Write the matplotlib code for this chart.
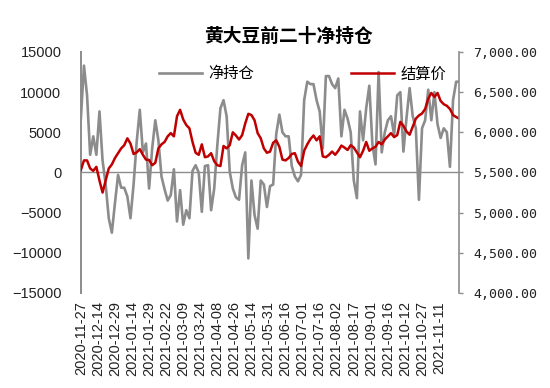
#!/usr/bin/env python
# -*- coding: utf-8 -*-
import matplotlib
matplotlib.use('Agg')
import matplotlib.pyplot as plt
import numpy as np

plt.rcParams['font.family'] = ['Liberation Sans', 'Noto Sans CJK SC']
plt.rcParams['axes.unicode_minus'] = True

# 每隔两个交易日取一个点
step = 2
net_position = [
    6700, 13300, 9600, 2200, 4500, 2200, 7600, 1500, -1500, -5700,
    -7500, -3800, -300, -1900, -1900, -3000, -5700, -1500, 3800, 7800,
    2500, 3600, -2000, 3000, 6500, 4000, -500, -2100, -3500, -2800,
    400, -6100, -2200, -6500, -4700, -5700, 200, 900, 0, -4900,
    800, 900, -4700, -2000, 3400, 8000, 9000, 7000, 100, -2000,
    -3100, -3400, 900, 2500, -10700, -1000, -5300, -7000, -1000, -1500,
    -4300, -1700, -1500, 4800, 7200, 5000, 4500, 4500, 800, -500,
    -1100, -300, 9000, 11300, 11000, 11000, 9000, 7600, 3000, 12000,
    12000, 11000, 10500, 11700, 4500, 7800, 6700, 5000, -1000, -3200,
    7600, 4000, 8000, 10800, 3500, 1000, 12500, 2500, 5000, 6500,
    7000, 4700, 9600, 10000, 2600, 6800, 10500, 7000, 5500, -3400,
    5500, 6500, 10300, 6500, 10000, 6000, 4300, 5500, 5000, 700,
    9000, 11300, 11300,
]
settle_price = [
    5530, 5650, 5650, 5550, 5520, 5570, 5400, 5250, 5400, 5550,
    5600, 5680, 5740, 5800, 5840, 5925, 5860, 5730, 5750, 5790,
    5720, 5660, 5655, 5590, 5620, 5800, 5850, 5880, 5950, 5990,
    5950, 6200, 6280, 6160, 6090, 6050, 5880, 5745, 5720, 5850,
    5690, 5700, 5740, 5640, 5590, 5580, 5830, 5800, 5840, 6000,
    5960, 5910, 5965, 6110, 6230, 6215, 6150, 5990, 5925, 5800,
    5745, 5760, 5870, 5900, 5820, 5660, 5650, 5680, 5730, 5740,
    5635, 5580, 5770, 5850, 5915, 5960, 5900, 5950, 5700, 5690,
    5720, 5760, 5720, 5770, 5835, 5810, 5780, 5840, 5810, 5750,
    5690, 5770, 5880, 5770, 5800, 5820, 5880, 5850, 5910, 5950,
    5990, 5940, 5965, 6130, 6080, 6010, 5970, 6070, 6170, 6210,
    6235, 6290, 6420, 6490, 6440, 6490, 6390, 6350, 6330, 6290,
    6215, 6190, 6170,
]
tick_labels = [
    '2020-11-27', '2020-12-14', '2020-12-29', '2021-01-14', '2021-01-29',
    '2021-02-22', '2021-03-09', '2021-03-24', '2021-04-08', '2021-04-26',
    '2021-05-14', '2021-05-31', '2021-06-16', '2021-07-01', '2021-07-16',
    '2021-08-02', '2021-08-17', '2021-09-01', '2021-09-16', '2021-10-12',
    '2021-10-27', '2021-11-11',
]
tick_every = 11  # 标签间隔(交易日)

x = np.arange(len(net_position)) * step

fig = plt.figure(figsize=(5.5, 3.88), dpi=100)
ax = fig.add_axes([0.147, 0.245, 0.688, 0.621])
ax2 = ax.twinx()

l1, = ax.plot(x, net_position, color='#8c8c8c', lw=1.9, label='净持仓')
l2, = ax2.plot(x, settle_price, color='#c00000', lw=1.8, label='结算价')

ax.axhline(0, color='#8c8c8c', lw=1.0, zorder=0)
ax.set_xlim(0, x[-1])
ax.set_ylim(-15000, 15000)
ax.set_yticks(np.arange(-15000, 15001, 5000))
ax2.set_ylim(4000, 7000)
ax2.set_yticks(np.arange(4000, 7001, 500))
ax2.set_yticklabels(['{:,.2f}'.format(v) for v in np.arange(4000, 7001, 500)],
                    family='DejaVu Sans Mono', fontsize=9.5)

ax.set_xticks(np.arange(len(tick_labels)) * tick_every)
ax.set_xticklabels(tick_labels, rotation=90, fontsize=10.5)

for a in (ax, ax2):
    for s in ('top', 'bottom'):
        a.spines[s].set_visible(False)
ax2.spines['left'].set_visible(False)
ax.spines['right'].set_visible(False)
ax.spines['left'].set_color('#8c8c8c')
ax.spines['left'].set_linewidth(1.4)
ax2.spines['right'].set_color('#8c8c8c')
ax2.spines['right'].set_linewidth(1.2)

ax.tick_params(axis='y', length=0, pad=14, labelsize=10.5, colors='#222222')
ax.tick_params(axis='x', length=0, pad=6, colors='#222222')
ax2.tick_params(axis='y', length=3, width=1, pad=7, labelcolor='#222222',
                color='#8c8c8c')

fig.text(0.524, 0.905, '黄大豆前二十净持仓', ha='center', va='center',
         fontsize=13.5, fontweight='bold', family='Noto Sans CJK SC')

ax.legend([l1, l2], ['净持仓', '结算价'], loc='center', ncol=2,
          bbox_to_anchor=(0.586, 0.909), frameon=False,
          handlelength=2.8, columnspacing=6.4, handletextpad=0.4,
          borderpad=0, prop={'family': 'Noto Sans CJK SC', 'size': 11})

fig.savefig('out.png', dpi=100)
